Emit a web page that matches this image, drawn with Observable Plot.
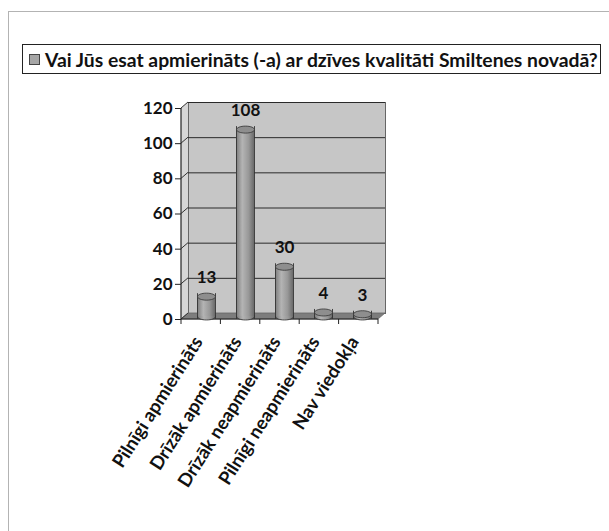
<!DOCTYPE html>
<html>
<head>
<meta charset="utf-8">
<script src="https://cdn.jsdelivr.net/npm/d3@7"></script>
<script src="https://cdn.jsdelivr.net/npm/@observablehq/plot@0.6"></script>
<style>
  html, body { margin: 0; padding: 0; background: #fff; }
  #wrap { position: relative; width: 609px; height: 531px; overflow: hidden; font-family: Lato, "DejaVu Sans", sans-serif; }
  #outer { position: absolute; left: 8px; top: 11px; width: 700px; height: 700px; border-left: 1px solid #b3b3b3; border-top: 1px solid #b3b3b3; }
  #title { position: absolute; left: 22px; top: 44px; width: 577px; height: 28px; border: 1.5px solid #222; display: flex; align-items: center; box-sizing: content-box; }
  #title .sw { width: 9px; height: 9px; background: #a6a6a6; border: 1px solid #444; margin-left: 6px; margin-right: 5px; flex: none; }
  #title .tx { font-weight: bold; font-size: 16px; color: #111; white-space: nowrap; }
  #chart { position: absolute; left: 0; top: 0; }
</style>
</head>
<body>
<div id="wrap">
  <div id="outer"></div>
  <div id="chart"></div>
  <div id="title"><div class="sw"></div><div class="tx"></div></div>
</div>
<script>
const title = "Vai Jūs esat apmierināts (-a) ar dzīves kvalitāti Smiltenes novadā?";
const categories = ["Pilnīgi apmierināts", "Drīzāk apmierināts", "Drīzāk neapmierināts", "Pilnīgi neapmierināts", "Nav viedokļa"];
const values = [13, 108, 30, 4, 3];
const yTicks = [0, 20, 40, 60, 80, 100, 120];

const data = categories.map((c, i) => ({category: c, value: values[i]}));

const DX = 7, DY = -6, BAR_DX = 4;
const FONT = "Lato, 'DejaVu Sans', sans-serif";

// elliptical cap symbol for cylinders
const ellipse = {
  draw(ctx) {
    const rx = 9, ry = 3.5, k = 0.5523;
    ctx.moveTo(rx, 0);
    ctx.bezierCurveTo(rx, ry * k, rx * k, ry, 0, ry);
    ctx.bezierCurveTo(-rx * k, ry, -rx, ry * k, -rx, 0);
    ctx.bezierCurveTo(-rx, -ry * k, -rx * k, -ry, 0, -ry);
    ctx.bezierCurveTo(rx * k, -ry, rx, -ry * k, rx, 0);
    ctx.closePath();
  }
};

// 3D decorations (side wall, floor, grid connectors, boundary ticks) drawn from the scales
function decor(index, scales, vals, dims) {
  const y = scales.y;
  const x0 = dims.marginLeft, x1 = dims.width - dims.marginRight;
  const yb = y(0), yt = y(d3.max(yTicks));
  const g = d3.create("svg:g");
  g.append("path")
    .attr("d", `M${x0},${yb}L${x0 + DX},${yb + DY}L${x0 + DX},${yt + DY}L${x0},${yt}Z`)
    .attr("fill", "#d6d6d6");
  g.append("path")
    .attr("d", `M${x0},${yb}L${x0 + DX},${yb + DY}L${x1 + DX},${yb + DY}L${x1},${yb}Z`)
    .attr("fill", "#7d7d7d").attr("stroke", "#666").attr("stroke-width", 0.8);
  for (const t of yTicks) {
    g.append("line")
      .attr("x1", x0).attr("y1", y(t)).attr("x2", x0 + DX).attr("y2", y(t) + DY)
      .attr("stroke", "#333").attr("stroke-width", 1);
  }
  const n = categories.length, step = (x1 - x0) / n;
  for (let i = 0; i <= n; i++) {
    g.append("line")
      .attr("x1", x0 + i * step).attr("y1", yb).attr("x2", x0 + i * step).attr("y2", yb + 5)
      .attr("stroke", "#222").attr("stroke-width", 1);
  }
  g.append("line").attr("x1", x0).attr("y1", yb).attr("x2", x1).attr("y2", yb)
    .attr("stroke", "#222").attr("stroke-width", 1.2);
  g.append("line").attr("x1", x0).attr("y1", yb).attr("x2", x0).attr("y2", yt)
    .attr("stroke", "#222").attr("stroke-width", 1.2);
  return g.node();
}

const plot = Plot.plot({
  width: 609,
  height: 531,
  marginLeft: 181,
  marginRight: 231,
  marginTop: 108,
  marginBottom: 212,
  style: {fontFamily: FONT, background: "transparent", overflow: "visible"},
  x: {domain: categories, paddingInner: 0.54, paddingOuter: 0.27, label: null},
  y: {domain: [0, 120], ticks: yTicks, label: null},
  marks: [
    Plot.frame({fill: "#c6c6c6", stroke: "#666", dx: DX, dy: DY}),
    Plot.ruleY(yTicks.slice(1), {dx: DX, dy: DY, stroke: "#2a2a2a", strokeWidth: 1}),
    decor,
    Plot.axisY({ticks: yTicks, tickSize: 6, tickPadding: 3, fontSize: 17, fontWeight: "bold", fill: "#111", stroke: "#222", label: null}),
    Plot.axisX({tickSize: 0, tickRotate: -57.5, tickPadding: 19, dx: -4, fontSize: 18.5, fontWeight: "bold", fill: "#111", label: null}),
    // cylinder bottoms
    Plot.dot(data, {x: "category", y: () => 0, symbol: ellipse, r: 5, dx: BAR_DX, dy: -3, fill: "url(#cyl)", stroke: "#333", strokeWidth: 0.8}),
    // cylinder bodies
    Plot.barY(data, {x: "category", y: "value", dx: BAR_DX, insetBottom: 3, fill: "url(#cyl)"}),
    Plot.ruleX(data, {x: "category", y1: () => 0, y2: "value", dx: BAR_DX - 9, insetBottom: 3, stroke: "#333", strokeWidth: 0.9}),
    Plot.ruleX(data, {x: "category", y1: () => 0, y2: "value", dx: BAR_DX + 9, insetBottom: 3, stroke: "#333", strokeWidth: 0.9}),
    // cylinder tops
    Plot.dot(data, {x: "category", y: "value", symbol: ellipse, r: 5, dx: BAR_DX, fill: "#8e8e8e", stroke: "#333", strokeWidth: 0.8}),
    Plot.text(data, {x: "category", y: "value", text: d => String(d.value), dx: BAR_DX, dy: -19, fontSize: 17, fontWeight: "bold", fill: "#111"})
  ]
});

// gradient for cylinder bodies
const svgNS = "http://www.w3.org/2000/svg";
const defs = document.createElementNS(svgNS, "defs");
defs.innerHTML = `<linearGradient id="cyl" x1="0" x2="1" y1="0" y2="0">
  <stop offset="0" stop-color="#7a7a7a"/>
  <stop offset="0.35" stop-color="#b4b4b4"/>
  <stop offset="0.7" stop-color="#989898"/>
  <stop offset="1" stop-color="#6a6a6a"/>
</linearGradient>`;
plot.insertBefore(defs, plot.firstChild);
document.getElementById("chart").appendChild(plot);

// title: fit text to the legend box width
const tx = document.querySelector("#title .tx");
tx.textContent = title;
const target = 553;
const w = tx.getBoundingClientRect().width;
if (w > 0) tx.style.fontSize = (16 * target / w).toFixed(2) + "px";
</script>
</body>
</html>
